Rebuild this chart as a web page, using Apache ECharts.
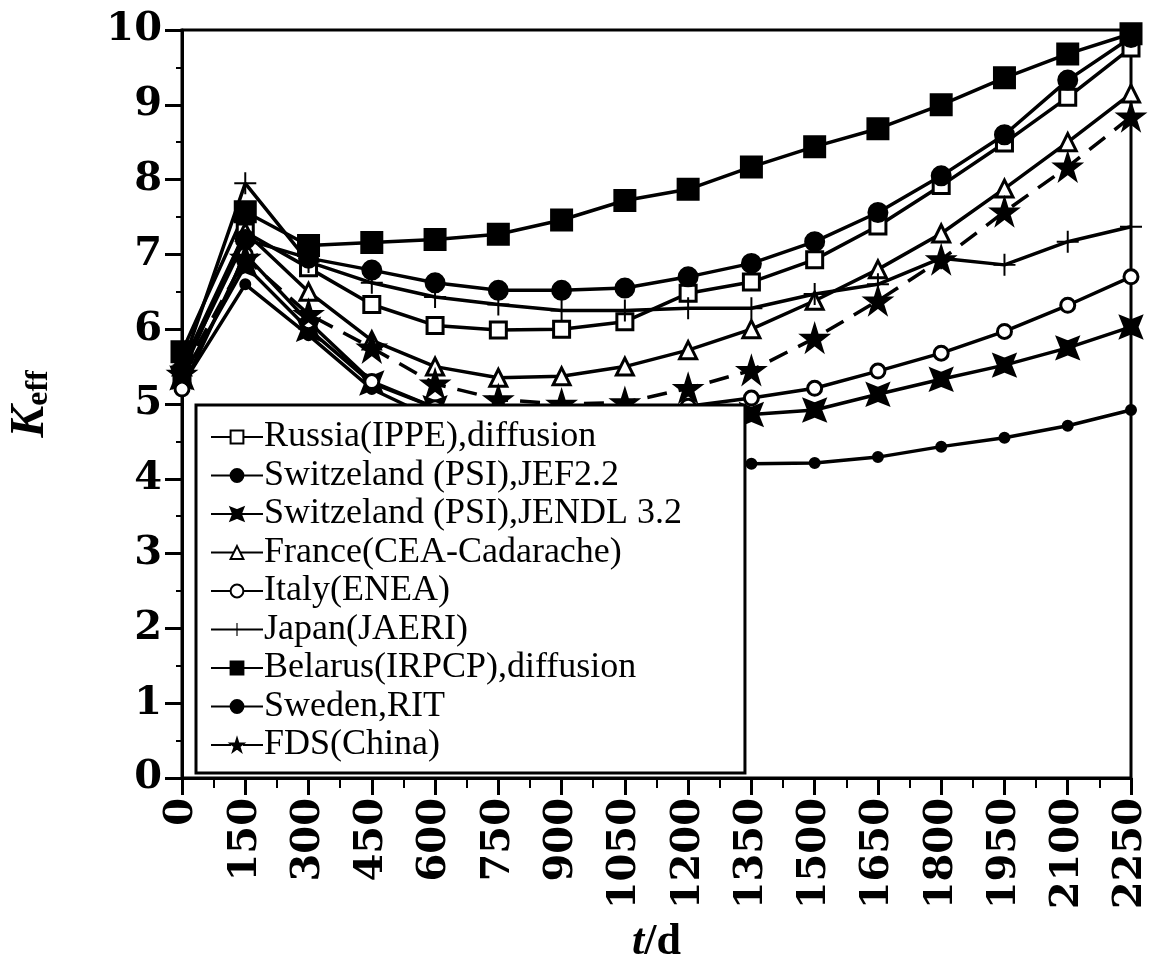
<!DOCTYPE html>
<html>
<head>
<meta charset="utf-8">
<script src="https://cdn.jsdelivr.net/npm/echarts@6/dist/echarts.min.js"></script>
<style>
html,body{margin:0;padding:0;background:#fff;}
#chart{width:1151px;height:967px;}
</style>
</head>
<body>
<div id="chart"></div>
<script>
// ---- data ----
const tDays = [0,150,300,450,600,750,900,1050,1200,1350,1500,1650,1800,1950,2100,2250];
const xTicks = [0,150,300,450,600,750,900,1050,1200,1350,1500,1650,1800,1950,2100,2250];
const yTicks = [0,1,2,3,4,5,6,7,8,9,10];

const seriesNames = [
  "Russia(IPPE),diffusion",
  "Switzeland (PSI),JEF2.2",
  "Switzeland (PSI),JENDL 3.2",
  "France(CEA-Cadarache)",
  "Italy(ENEA)",
  "Japan(JAERI)",
  "Belarus(IRPCP),diffusion",
  "Sweden,RIT",
  "FDS(China)"
];
const russia  = [5.40,7.30,6.82,6.33,6.05,5.99,6.00,6.10,6.48,6.63,6.93,7.38,7.92,8.49,9.10,9.76];
const jef22   = [5.25,6.60,5.92,5.20,4.80,4.55,4.38,4.28,4.22,4.20,4.21,4.29,4.43,4.55,4.71,4.92];
const jendl32 = [5.35,6.85,6.00,5.28,4.95,4.80,4.75,4.75,4.80,4.86,4.92,5.13,5.33,5.52,5.75,6.03];
const france  = [5.50,7.30,6.50,5.85,5.50,5.35,5.37,5.50,5.72,6.00,6.38,6.80,7.28,7.88,8.50,9.15];
const italy   = [5.20,7.00,6.10,5.30,4.95,4.85,4.85,4.90,4.97,5.08,5.21,5.44,5.68,5.97,6.32,6.70];
const japan   = [5.50,7.95,6.90,6.62,6.43,6.33,6.25,6.25,6.28,6.28,6.47,6.60,6.95,6.86,7.17,7.37];
const belarus = [5.70,7.57,7.12,7.16,7.20,7.27,7.46,7.72,7.87,8.17,8.44,8.68,9.00,9.36,9.68,9.95];
const sweden  = [5.45,7.20,6.95,6.79,6.62,6.52,6.52,6.55,6.70,6.88,7.17,7.56,8.05,8.60,9.33,9.90];
const fds     = [5.40,6.95,6.20,5.75,5.27,5.06,5.00,5.02,5.21,5.45,5.88,6.38,6.93,7.57,8.17,8.84];

const allValues = [russia, jef22, jendl32, france, italy, japan, belarus, sweden, fds];

// ---- styles ----
const STAR5 = 'path://M0,-1 L0.2245,-0.309 L0.951,-0.309 L0.363,0.118 L0.588,0.809 L0,0.382 L-0.588,0.809 L-0.363,0.118 L-0.951,-0.309 L-0.2245,-0.309 Z';
const STAR4 = 'path://M-1,-1 L0,-0.6 L1,-1 L0.6,0 L1,1 L0,0.6 L-1,1 L-0.6,0 Z';
const PLUS  = 'path://M-0.09,-1 L0.09,-1 L0.09,-0.09 L1,-0.09 L1,0.09 L0.09,0.09 L0.09,1 L-0.09,1 L-0.09,0.09 L-1,0.09 L-1,-0.09 L-0.09,-0.09 Z';

const markerStyles = [
  {symbol:'rect', size:16, fill:'#fff'},
  {symbol:'circle', size:9, fill:'#000'},
  {symbol:STAR4, size:20, fill:'#000'},
  {symbol:'triangle', size:17, fill:'#fff'},
  {symbol:'circle', size:14, fill:'#fff'},
  {symbol:PLUS, size:22, fill:'#000', border:0},
  {symbol:'rect', size:20, fill:'#000'},
  {symbol:'circle', size:18, fill:'#000'},
  {symbol:STAR5, size:24, fill:'#000'}
];

const series = seriesNames.map((name, k) => {
  const m = markerStyles[k];
  return {
    name: name,
    type: 'line',
    data: tDays.map((t, i) => [t, allValues[k][i]]),
    symbol: m.symbol,
    symbolSize: m.size,
    showAllSymbol: true,
    lineStyle: {color:'#000', width:3.5, type: k === 8 ? [20, 12] : 'solid'},
    itemStyle: {color: m.fill, borderColor:'#000', borderWidth: m.border === 0 ? 0 : 3},
    emphasis: {disabled:true},
    animation: false,
    z: 2
  };
});

const chart = echarts.init(document.getElementById('chart'), null, {renderer:'canvas'});
chart.setOption({
  backgroundColor:'#fff',
  animation:false,
  grid:{left:182, right:20, top:30, bottom:189, show:true, borderColor:'#000', borderWidth:3,
        backgroundColor:'transparent', containLabel:false, outerBoundsMode:'none'},
  legend:{
    orient:'vertical',
    left:196, top:405,
    data: seriesNames,
    backgroundColor:'#fff',
    borderColor:'#000',
    borderWidth:3,
    borderRadius:0,
    padding:[14, 63, 10, 14],
    itemWidth:52,
    itemHeight:16,
    itemGap:2.5,
    textStyle:{fontFamily:'Liberation Serif', fontSize:36, color:'#000', lineHeight:32, padding:[0,0,0,-4]},
    z:10
  },
  xAxis:{
    type:'value', min:0, max:2250, interval:150,
    name:'{t|t}{d|/d}',
    nameLocation:'middle', nameGap:143,
    nameTextStyle:{rich:{
      t:{fontFamily:'Liberation Serif', fontStyle:'italic', fontWeight:'bold', fontSize:44, color:'#000'},
      d:{fontFamily:'Liberation Serif', fontWeight:'bold', fontSize:44, color:'#000'}
    }},
    axisLine:{show:true, onZero:false, lineStyle:{color:'#000', width:3}},
    axisTick:{show:true, inside:false, length:17, lineStyle:{color:'#000', width:3}},
    minorTick:{show:true, splitNumber:2, length:10, lineStyle:{color:'#000', width:2}},
    splitLine:{show:false},
    axisLabel:{
      rotate:90, margin:20, color:'#000',
      fontFamily:'DejaVu Serif', fontWeight:'bold', fontSize:40,
      formatter: v => xTicks.indexOf(v) >= 0 ? String(v) : ''
    }
  },
  yAxis:{
    type:'value', min:0, max:10, interval:1,
    name:'{k|K}{e|eff}',
    nameLocation:'middle', nameGap:127, nameRotate:90,
    nameTextStyle:{rich:{
      k:{fontFamily:'Liberation Serif', fontStyle:'italic', fontWeight:'bold', fontSize:48, color:'#000'},
      e:{fontFamily:'Liberation Serif', fontWeight:'bold', fontSize:32, color:'#000', padding:[16,0,0,0]}
    }},
    axisLine:{show:true, lineStyle:{color:'#000', width:3}},
    axisTick:{show:true, inside:false, length:17, lineStyle:{color:'#000', width:3}},
    minorTick:{show:true, splitNumber:2, length:6, lineStyle:{color:'#000', width:2}},
    splitLine:{show:false},
    axisLabel:{
      margin:20, color:'#000',
      fontFamily:'DejaVu Serif', fontWeight:'bold', fontSize:40,
      formatter: v => yTicks.indexOf(v) >= 0 ? String(v) : ''
    }
  },
  series: series
});
</script>
</body>
</html>
